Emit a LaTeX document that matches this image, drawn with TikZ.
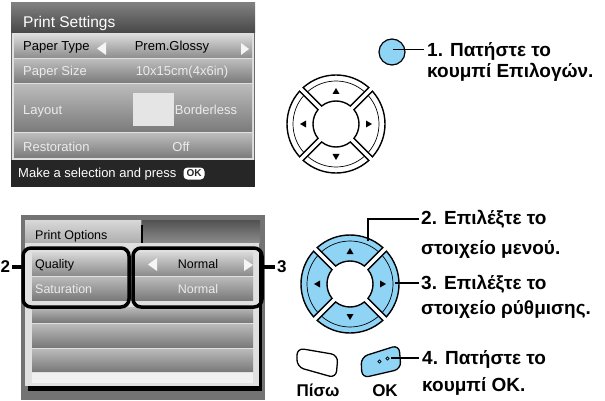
\documentclass[tikz,border=0pt]{standalone}
\usepackage{fontspec}
\setmainfont{Liberation Sans}
\definecolor{blueb}{RGB}{143,212,245}
\begin{document}
\begin{tikzpicture}[x=1pt,y=-1pt,
  lbl/.style={font=\bfseries\fontsize{19}{20}\selectfont, anchor=base west, inner sep=0},
  lbls/.style={font=\bfseries\fontsize{17}{18}\selectfont, inner sep=0},
  scr/.style={font=\fontsize{13}{14}\selectfont, anchor=base west, inner sep=0, text=black},
  scrl/.style={scr, text=black!8},
  scrw/.style={scr, text=white},
  rowa/.style={top color=black!15, bottom color=black!45},
  rowb/.style={top color=black!27, bottom color=black!52},
  seg/.style={draw=black, line width=1.4, fill=#1},
  lead/.style={line width=1.2},
  tag/.style={line width=3.5},
  hl/.style={line width=3.5, rounded corners=8},
  arr/.style={fill=black!4},
  btn/.style={draw=black, line width=1.3, rounded corners=7}
]
\useasboundingbox (0,0) rectangle (605,401);

% ---------- top screen ----------
\fill[black!58] (11,3) rectangle (255,187);
\shade[top color=black!50, bottom color=black!72] (11,3) rectangle (255,33);
\fill[black!12] (12,33) rectangle (254,160);
\shade[rowa] (14,35) rectangle (252,58);
\shade[rowb] (14,60) rectangle (252,83);
\shade[rowb] (14,85) rectangle (252,132);
\shade[rowb] (14,134) rectangle (252,158);
\fill[black!85] (11,160) rectangle (255,187);
\node[scrw, font=\fontsize{15.5}{16}\selectfont] (pst) at (23,28) {Print Settings};
\node[scr] (ptl) at (23,51) {Paper Type};
\node[scr, anchor=base] (ptv) at (172,51) {Prem.Glossy};
\fill[arr] (97,48.5) -- (106,42) -- (106,55) -- cycle;
\fill[arr] (249,49) -- (241,43) -- (241,55) -- cycle;
\node[scrl] (psl) at (23,76) {Paper Size};
\node[scrl, anchor=base] (psv) at (182,76) {10x15cm(4x6in)};
\node[scrl] (lyl) at (23,115) {Layout};
\fill[black!10] (133,93) rectangle (174,126);
\node[scrl, anchor=base] (lyv) at (206,115) {Borderless};
\node[scrl] (rsl) at (23,152) {Restoration};
\node[scrl, anchor=base] (rsv) at (181,152) {Off};
\node[scrw] (msg) at (18,177) {Make a selection and press};
\node[fill=white, rounded corners=4, inner sep=0, minimum width=21, minimum height=12,
      font=\bfseries\fontsize{10}{10}\selectfont, text=black!85] (okb) at (194,173.5) {OK};

% ---------- top d-pad ----------
\begin{scope}[shift={(336,124)}, yscale=-1]
\foreach \r in {0,90,180,270}{
  \begin{scope}[rotate=\r]
    \draw[seg=white] (47.92:49) arc[start angle=47.92,end angle=132.08,radius=49]
       -- (128.76:23) arc[start angle=128.76,end angle=51.24,radius=23] -- cycle;
    \draw[line width=0.7] (48.33:43) arc[start angle=48.33,end angle=131.67,radius=43];
    \fill (-3.5,30) -- (3.5,30) -- (0,36) -- cycle;
  \end{scope}}
\end{scope}

\node[circle, draw, fill=blueb, minimum size=26, inner sep=0, line width=1.2] (menu) at (392,52) {};
\node[lbl] (t1a) at (427,57) {1. Πατήστε το};
\node[lbl] (t1b) at (427,78) {κουμπί Επιλογών.};
\coordinate (m1) at (393,49.5);
\draw[lead] (m1) -- ([xshift=-3pt]m1 -| t1a.west);

% ---------- bottom screen ----------
\fill[black!55] (21,215) rectangle (265,400);
\shade[top color=black!15, bottom color=black!32] (25,220) rectangle (141,243);
\shade[top color=black!68, bottom color=black!45] (142,220) rectangle (260,243);
\draw[black, line width=1.5] (142,225) -- (142,243);
\fill[black] (28,250) rectangle (262,391);
\fill[black!12] (25,243) rectangle (259,386);
\shade[rowa] (32,252) rectangle (253,275);
\shade[rowb] (32,277) rectangle (253,300);
\shade[rowb] (32,307) rectangle (253,322);
\shade[rowb] (32,324) rectangle (253,347);
\shade[rowb] (32,349) rectangle (253,371);
\fill[black!6] (32,373) rectangle (253,383);
\node[scr, font=\fontsize{12.5}{13}\selectfont] (pol) at (35,239) {Print Options};
\node[scr, font=\fontsize{12.5}{13}\selectfont] (qul) at (35,268) {Quality};
\node[scr, font=\fontsize{12.5}{13}\selectfont, anchor=base] (quv) at (198,268) {Normal};
\node[scrl, font=\fontsize{12.5}{13}\selectfont] (sal) at (35,293) {Saturation};
\node[scrl, font=\fontsize{12.5}{13}\selectfont, anchor=base] (sav) at (198,293) {Normal};
\fill[arr] (148,264.5) -- (157,258) -- (157,271) -- cycle;
\fill[arr] (253,265) -- (244,259) -- (244,271) -- cycle;
\draw[hl] (23,248) rectangle (129,307);
\draw[hl] (133,248) rectangle (262,307);
\node[lbls, anchor=base west] (n2) at (0.5,272) {2};
\node[lbls, anchor=base west] (n3) at (277,272) {3};
\coordinate (h2) at (23,267);
\coordinate (h3) at (262,267);
\draw[tag] (h2) -- ([xshift=1.5pt]h2 -| n2.east);
\draw[tag] (h3) -- ([xshift=-2pt]h3 -| n3.west);

% ---------- bottom d-pad ----------
\begin{scope}[shift={(350,284)}, yscale=-1]
\foreach \r in {0,90,180,270}{
  \begin{scope}[rotate=\r]
    \draw[seg=blueb] (47.92:49) arc[start angle=47.92,end angle=132.08,radius=49]
       -- (128.76:23) arc[start angle=128.76,end angle=51.24,radius=23] -- cycle;
    \draw[line width=0.7] (48.33:43) arc[start angle=48.33,end angle=131.67,radius=43];
    \fill (-3.5,30) -- (3.5,30) -- (0,36) -- cycle;
  \end{scope}}
\end{scope}
\coordinate (up) at (368,241);
\coordinate (rt) at (395,283);
\node[lbl] (t2a) at (421,224) {2. Επιλέξτε το};
\node[lbl] (t2b) at (421,254) {στοιχείο μενού.};
\node[lbl] (t3a) at (421,289) {3. Επιλέξτε το};
\node[lbl] (t3b) at (421,314) {στοιχείο ρύθμισης.};
\draw[lead] (up) |- ([xshift=-2pt]t2a.west |- 0,219);
\draw[lead] (rt) -- ([xshift=-2pt]rt -| t3a.west);

% ---------- back / OK ----------
\draw[btn, fill=white] (297,348) -- (338,355) -- (336,378) -- (297,367) -- cycle;
\draw[btn, fill=blueb] (361,357) -- (399,345) -- (401,369) -- (362,378) -- cycle;
\draw[line width=0.8] (379.5,361.5) circle[radius=1.6];
\draw[line width=0.8] (387.5,358.5) circle[radius=1.6];
\node[lbls, anchor=base] (back) at (318,396) {Πίσω};
\node[lbls, anchor=base] (ok) at (385,396) {OK};
\node[lbl] (t4a) at (422,364) {4. Πατήστε το};
\node[lbl] (t4b) at (422,391) {κουμπί OK.};
\coordinate (okl) at (391,358);
\draw[lead] (okl) -- ([xshift=-3pt]okl -| t4a.west);
\end{tikzpicture}
\end{document}
